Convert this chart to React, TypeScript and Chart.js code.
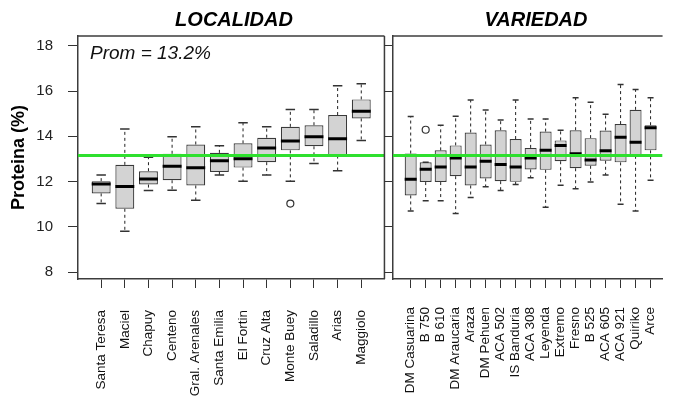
import React, { useEffect, useRef } from 'react';
import { Chart, registerables } from 'chart.js';

Chart.register(...registerables);

const FONT = '"Liberation Sans", Arial, Helvetica, sans-serif';

// ---------- LOCALIDAD ----------
const locCategories = ['Santa Teresa', 'Maciel', 'Chapuy', 'Centeno', 'Gral. Arenales', 'Santa Emilia', 'El Fortin', 'Cruz Alta', 'Monte Buey', 'Saladillo', 'Arias', 'Maggiolo'];
const locWhiskerLow = [11.03, 9.81, 11.61, 11.62, 11.18, 12.29, 12.02, 12.29, 12.02, 12.8, 12.48, 13.82];
const locQ1 = [11.48, 10.8, 11.87, 12.06, 11.83, 12.43, 12.62, 12.86, 13.38, 13.56, 13.15, 14.79];
const locMedian = [11.89, 11.78, 12.12, 12.68, 12.61, 12.92, 13.01, 13.49, 13.79, 13.98, 13.89, 15.11];
const locQ3 = [12.02, 12.74, 12.46, 13.23, 13.64, 13.27, 13.69, 13.94, 14.42, 14.49, 14.94, 15.63];
const locWhiskerHigh = [12.29, 14.32, 13.08, 13.98, 14.42, 13.58, 14.6, 14.42, 15.19, 15.19, 16.23, 16.32];
const locOutlierPos = [9];
const locOutlierVal = [11.03];

// ---------- VARIEDAD ----------
const varCategories = ['DM Casuarina', 'B 750', 'B 610', 'DM Araucaria', 'Araza', 'DM Pehuen', 'ACA 502', 'IS Banduria', 'ACA 308', 'Leyenda', 'Extremo', 'Fresno', 'B 525', 'ACA 605', 'ACA 921', 'Quiriko', 'Arce'];
const varWhiskerLow = [10.7, 11.15, 11.15, 10.59, 11.3, 11.77, 11.61, 11.87, 12.17, 10.87, 11.84, 11.68, 11.98, 12.29, 11.0, 10.7, 12.06];
const varQ1 = [11.39, 11.98, 11.98, 12.24, 11.83, 12.14, 12.02, 11.99, 12.54, 12.52, 12.9, 12.59, 12.7, 12.92, 12.85, 13.14, 13.38];
const varMedian = [12.11, 12.55, 12.64, 13.04, 12.65, 12.9, 12.76, 12.64, 13.04, 13.38, 13.6, 13.23, 12.96, 13.36, 13.96, 13.74, 14.38];
const varQ3 = [13.24, 12.85, 13.38, 13.6, 14.17, 13.64, 14.27, 13.88, 13.49, 14.21, 13.82, 14.27, 13.92, 14.26, 14.54, 15.17, 14.49];
const varWhiskerHigh = [14.88, 12.85, 14.49, 14.89, 15.6, 15.16, 14.72, 15.6, 14.77, 14.77, 14.27, 15.7, 15.5, 14.98, 16.29, 16.07, 15.7];
const varOutlierPos = [2];
const varOutlierVal = [14.29];

// ---------- shared ----------
const yTickValues = [8, 10, 12, 14, 16, 18];
const meanValue = 13.15;
const meanLabel = 'Prom = 13.2%';
const yTitle = 'Proteina (%)';

type Panel = {
  title: string;
  titleX: number;
  cats: string[];
  wl: number[];
  q1: number[];
  med: number[];
  q3: number[];
  wh: number[];
  outPos: number[];
  outVal: number[];
  xMin: number;
  xMax: number;
  isLeft: boolean;
};

const leftPanel: Panel = {
  title: 'LOCALIDAD', titleX: 234,
  cats: locCategories, wl: locWhiskerLow, q1: locQ1, med: locMedian, q3: locQ3, wh: locWhiskerHigh,
  outPos: locOutlierPos, outVal: locOutlierVal, xMin: 0.02, xMax: 12.98, isLeft: true,
};
const rightPanel: Panel = {
  title: 'VARIEDAD', titleX: 536 - 384,
  cats: varCategories, wl: varWhiskerLow, q1: varQ1, med: varMedian, q3: varQ3, wh: varWhiskerHigh,
  outPos: varOutlierPos, outVal: varOutlierVal, xMin: -0.18, xMax: 17.8, isLeft: false,
};

function makeConfig(p: Panel): any {
  const boxes = p.cats.map((_, i) => ({ x: i + 1, y: [p.q1[i], p.q3[i]] }));
  const outliers = p.outPos.map((pos, k) => ({ x: pos, y: p.outVal[k] }));

  const extras = {
    id: 'boxExtras',
    afterDatasetsDraw(chart: any) {
      const { ctx, chartArea, scales } = chart;
      const x = scales.x;
      const y = scales.y;
      const meta = chart.getDatasetMeta(0);
      ctx.save();
      ctx.beginPath();
      ctx.rect(chartArea.left, chartArea.top, chartArea.right - chartArea.left, chartArea.bottom - chartArea.top);
      ctx.clip();
      meta.data.forEach((bar: any, i: number) => {
        const cx = x.getPixelForValue(i + 1);
        const half = bar.width / 2;
        const yq1 = y.getPixelForValue(p.q1[i]);
        const yq3 = y.getPixelForValue(p.q3[i]);
        const ywl = y.getPixelForValue(p.wl[i]);
        const ywh = y.getPixelForValue(p.wh[i]);
        const ymed = y.getPixelForValue(p.med[i]);
        // whiskers (dashed)
        ctx.strokeStyle = '#222';
        ctx.lineWidth = 1;
        ctx.setLineDash([3, 3]);
        ctx.beginPath();
        ctx.moveTo(cx, yq3);
        ctx.lineTo(cx, ywh);
        ctx.moveTo(cx, yq1);
        ctx.lineTo(cx, ywl);
        ctx.stroke();
        ctx.setLineDash([]);
        // caps
        ctx.lineWidth = 1.5;
        ctx.strokeStyle = '#333';
        ctx.beginPath();
        ctx.moveTo(cx - half / 2, ywh);
        ctx.lineTo(cx + half / 2, ywh);
        ctx.moveTo(cx - half / 2, ywl);
        ctx.lineTo(cx + half / 2, ywl);
        ctx.stroke();
        // median
        ctx.lineWidth = 3;
        ctx.strokeStyle = '#000';
        ctx.beginPath();
        ctx.moveTo(cx - half, ymed);
        ctx.lineTo(cx + half, ymed);
        ctx.stroke();
      });
      // mean line
      const ym = y.getPixelForValue(meanValue);
      ctx.strokeStyle = '#2ee02e';
      ctx.lineWidth = 3;
      ctx.beginPath();
      ctx.moveTo(chartArea.left, ym);
      ctx.lineTo(chartArea.right, ym);
      ctx.stroke();
      ctx.restore();

      // frame (top + right)
      ctx.save();
      ctx.strokeStyle = '#3c3c3c';
      ctx.lineWidth = 1.5;
      ctx.beginPath();
      ctx.moveTo(chartArea.left, chartArea.top);
      ctx.lineTo(chartArea.right, chartArea.top);
      if (p.isLeft) {
        ctx.moveTo(chartArea.right, chartArea.top);
        ctx.lineTo(chartArea.right, chartArea.bottom);
      }
      ctx.stroke();

      // panel title
      ctx.fillStyle = '#000';
      ctx.font = `italic bold 20px ${FONT}`;
      ctx.textAlign = 'center';
      ctx.textBaseline = 'alphabetic';
      ctx.fillText(p.title, p.titleX, 26);

      if (p.isLeft) {
        ctx.font = `italic 19px ${FONT}`;
        ctx.textAlign = 'left';
        ctx.fillStyle = '#111';
        ctx.fillText(meanLabel, chartArea.left + 12, 59);
      }
      ctx.restore();
    },
  };

  return {
    type: 'bar',
    data: {
      datasets: [
        {
          type: 'bar',
          data: boxes,
          backgroundColor: '#d3d3d3',
          borderColor: '#3a3a3a',
          borderWidth: 1.2,
          borderSkipped: false,
          categoryPercentage: 1,
          barPercentage: 0.8,
        },
        {
          type: 'scatter',
          data: outliers,
          pointRadius: 3.5,
          pointBackgroundColor: '#fff',
          pointBorderColor: '#333',
          pointBorderWidth: 1.2,
          showLine: false,
        },
      ],
    },
    options: {
      responsive: false,
      animation: false,
      devicePixelRatio: 1,
      layout: { padding: { top: 36, right: p.isLeft ? 7 : 0, left: 0, bottom: 0 } },
      plugins: { legend: { display: false }, tooltip: { enabled: false }, title: { display: false } },
      scales: {
        x: {
          type: 'linear',
          min: p.xMin,
          max: p.xMax,
          bounds: 'data',
          offset: false,
          afterBuildTicks: (s: any) => {
            s.ticks = p.cats.map((_, i) => ({ value: i + 1 }));
          },
          afterFit: (s: any) => {
            s.height = 121;
          },
          ticks: {
            autoSkip: false,
            minRotation: 90,
            maxRotation: 90,
            padding: p.isLeft ? 22 : 19,
            color: '#111',
            font: { family: FONT, size: 13.5 },
            callback: (v: any) => p.cats[Math.round(v) - 1] ?? '',
          },
          grid: { offset: false, drawOnChartArea: false, drawTicks: true, tickLength: 9, color: '#333', lineWidth: 1 },
          border: { display: true, color: '#3c3c3c', width: 1.5 },
        },
        y: {
          type: 'linear',
          min: 7.7,
          max: 18.43,
          bounds: 'data',
          beginAtZero: false,
          afterBuildTicks: (s: any) => {
            s.ticks = yTickValues.map((v) => ({ value: v }));
          },
          afterFit: (s: any) => {
            s.width = p.isLeft ? 78 : 9;
          },
          ticks: {
            display: p.isLeft,
            autoSkip: false,
            padding: 15,
            color: '#222',
            font: { family: FONT, size: 15 },
          },
          grid: { drawOnChartArea: false, drawTicks: true, tickLength: 10, color: '#333', lineWidth: 1 },
          border: { display: true, color: '#3c3c3c', width: 1.5 },
          title: {
            display: p.isLeft,
            text: yTitle,
            color: '#000',
            font: { family: FONT, size: 18, weight: 'bold' },
            padding: { top: 8, bottom: 0 },
          },
        },
      },
    },
    plugins: [extras],
  };
}

export default function App() {
  const leftRef = useRef<HTMLCanvasElement>(null);
  const rightRef = useRef<HTMLCanvasElement>(null);

  useEffect(() => {
    const c1 = new Chart(leftRef.current as HTMLCanvasElement, makeConfig(leftPanel));
    const c2 = new Chart(rightRef.current as HTMLCanvasElement, makeConfig(rightPanel));
    return () => {
      c1.destroy();
      c2.destroy();
    };
  }, []);

  return (
    <div style={{ position: 'fixed', left: 0, top: 0, width: 686, height: 400, background: '#fff', overflow: 'hidden' }}>
      <canvas ref={leftRef} width={400} height={400} style={{ position: 'absolute', left: 0, top: 0, width: 400, height: 400 }} />
      <canvas ref={rightRef} width={302} height={400} style={{ position: 'absolute', left: 384, top: 0, width: 302, height: 400 }} />
    </div>
  );
}
